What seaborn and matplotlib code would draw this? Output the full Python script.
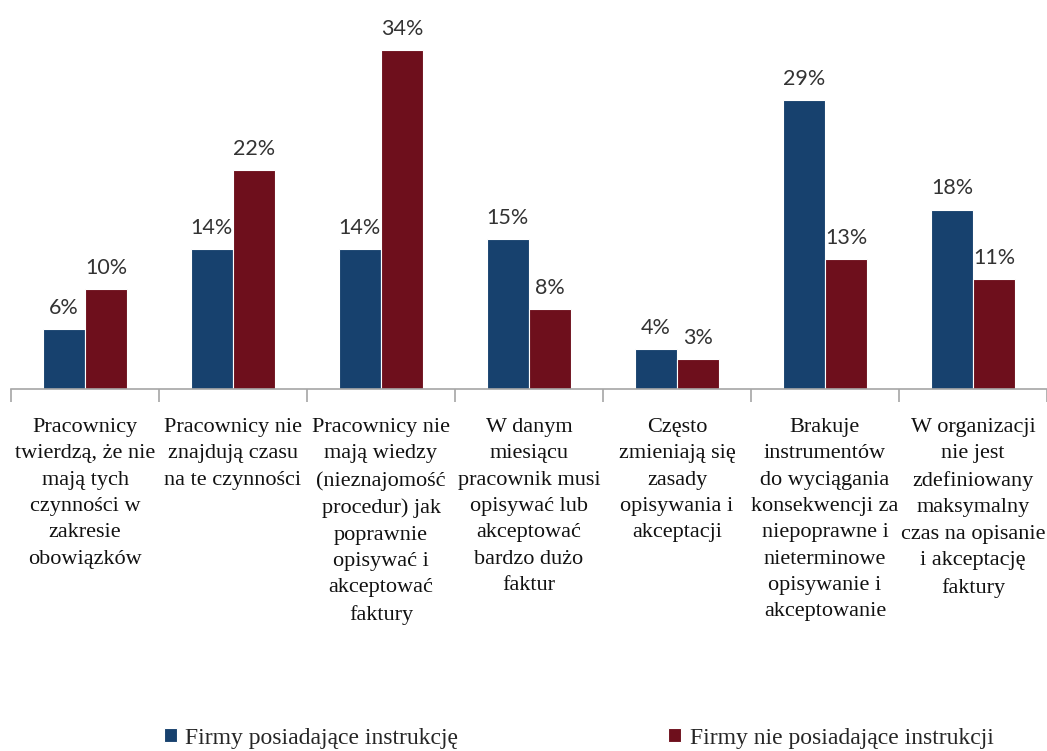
import numpy as np
import pandas as pd
import matplotlib
matplotlib.use("Agg")
import matplotlib.pyplot as plt
import seaborn as sns

categories = [
    "Pracownicy\ntwierdzą, że nie\nmają tych\nczynności w\nzakresie\nobowiązków",
    "Pracownicy nie\nznajdują czasu\nna te czynności",
    "Pracownicy nie\nmają wiedzy\n(nieznajomość\nprocedur) jak\npoprawnie\nopisywać i\nakceptować\nfaktury",
    "W danym\nmiesiącu\npracownik musi\nopisywać lub\nakceptować\nbardzo dużo\nfaktur",
    "Często\nzmieniają się\nzasady\nopisywania i\nakceptacji",
    "Brakuje\ninstrumentów\ndo wyciągania\nkonsekwencji za\nniepoprawne i\nnieterminowe\nopisywanie i\nakceptowanie",
    "W organizacji\nnie jest\nzdefiniowany\nmaksymalny\nczas na opisanie\ni akceptację\nfaktury",
]
series_names = ["Firmy posiadające instrukcję", "Firmy nie posiadające instrukcji"]
with_instr = [6, 14, 14, 15, 4, 29, 18]
without_instr = [10, 22, 34, 8, 3, 13, 11]

colors = ["#17416E", "#6E0F1C"]

df = pd.DataFrame({
    "kategoria": categories * 2,
    "seria": [series_names[0]] * len(categories) + [series_names[1]] * len(categories),
    "wartosc": with_instr + without_instr,
})

sns.set_theme(style="white")
plt.rcParams["font.family"] = ["Liberation Serif", "DejaVu Serif"]

fig = plt.figure(figsize=(10.47, 7.51), dpi=100)
ax = fig.add_axes([11 / 1047, 1 - 389 / 751, 1036 / 1047, 389 / 751])

sns.barplot(data=df, x="kategoria", y="wartosc", hue="seria", order=categories,
            hue_order=series_names, palette=colors, saturation=1, width=0.57,
            edgecolor="white", linewidth=0.8, ax=ax)

ax.set_xlim(-0.5, len(categories) - 0.5)
ax.set_ylim(0, 389 / 9.97)

# percentage labels above each bar
for container in ax.containers:
    ax.bar_label(container, labels=[f"{v:.0f}%" for v in container.datavalues],
                 padding=8, fontsize=15.5, color="#333333",
                 family=["Lato", "DejaVu Sans"])

for side in ["left", "top", "right"]:
    ax.spines[side].set_visible(False)
ax.spines["bottom"].set_color("#A6A6A6")
ax.spines["bottom"].set_linewidth(1.2)
ax.set_yticks([])
ax.set_xlabel("")
ax.set_ylabel("")

ax.set_xticks(range(len(categories)))
ax.set_xticklabels(categories, fontsize=16, linespacing=1.52, color="#111111",
                   va="top", ha="center")
ax.set_xticks(np.arange(-0.5, len(categories), 1), minor=True)
ax.tick_params(axis="x", which="major", length=0, pad=21)
ax.tick_params(axis="x", which="minor", length=9, width=1.2, color="#A6A6A6",
               direction="out", bottom=True)

handles, labels = ax.get_legend_handles_labels()
ax.get_legend().remove()
fig.legend(handles, labels, ncol=2, loc="center left",
           bbox_to_anchor=(164 / 1047, 0.017), borderpad=0, borderaxespad=0,
           frameon=False, fontsize=17, handlelength=0.55, handleheight=0.55,
           handletextpad=0.35, columnspacing=8.9)

fig.savefig("out.png", dpi=100)
